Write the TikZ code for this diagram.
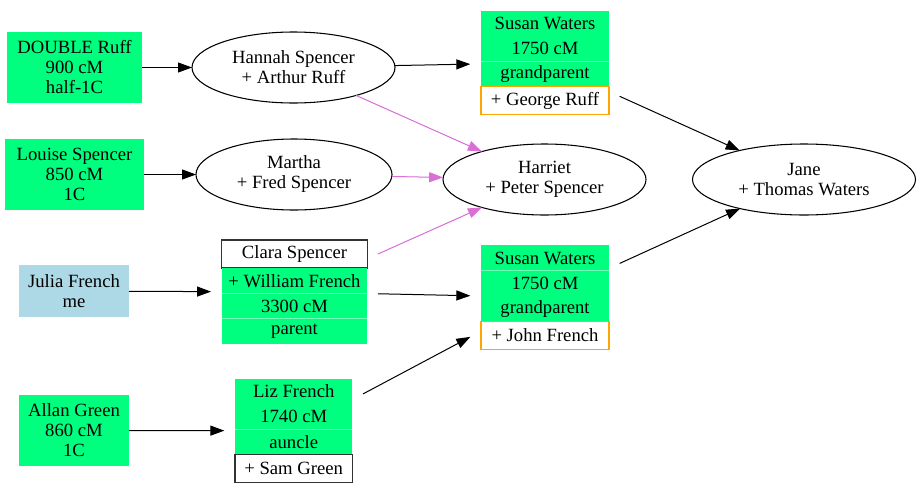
\documentclass[tikz,border=0pt]{standalone}
\usepackage{fontspec}
\setmainfont{Liberation Serif}
\usepackage{xcolor}
\usepackage{tikz}
\usetikzlibrary{shapes,arrows.meta,positioning,fit,calc}

\definecolor{springgreen}{HTML}{00FF7F}
\definecolor{lightblue}{HTML}{ADD8E6}
\definecolor{orange}{HTML}{FFA500}
\definecolor{orchid}{HTML}{DA70D6}

\tikzset{
    every node/.style={font=\fontsize{14}{15}\selectfont, inner sep=0pt, outer sep=0pt},
    match/.style={rectangle, fill=springgreen, align=center},
    me/.style={rectangle, fill=lightblue, align=center},
    couple/.style={ellipse, draw, line width=0.8pt, align=center},
    cell/.style={rectangle, fill=springgreen, minimum width=#1, minimum height=19pt},
    spouse/.style={rectangle, draw=orange, line width=0.9pt, fill=white, minimum width=#1, minimum height=21pt},
    plain/.style={rectangle, draw=black!80, line width=0.9pt, fill=white, minimum width=#1, minimum height=21pt},
    table/.style={inner sep=8pt},
    sep/.style={draw=springgreen!55!white, line width=0.4pt},
    link/.style={-{Triangle[length=10.5pt,width=7.5pt]}, line width=0.75pt},
    kin/.style={link, draw=orchid, fill=orchid}
}

\begin{document}
\begin{tikzpicture}[x=0.75pt, y=-0.75pt]
    \useasboundingbox (0,0) rectangle (921,493);

    % DNA matches
    \node[match, minimum width=101.25pt, minimum height=53.25pt] (double) at (74.5,67.5) {DOUBLE Ruff\\900 cM\\half-1C};
    \node[match, minimum width=104.25pt, minimum height=53.25pt] (louise) at (74.5,174.5) {Louise Spencer\\850 cM\\1C};
    \node[me, minimum width=82.5pt, minimum height=39pt] (julia) at (74,291) {Julia French\\me};
    \node[match, minimum width=82.5pt, minimum height=53.25pt] (allan) at (74,430.5) {Allan Green\\860 cM\\1C};

    % Couples
    \node[couple, minimum width=152.25pt, minimum height=53.25pt] (hannah) at (293.5,67.5) {Hannah Spencer\\+ Arthur Ruff};
    \node[couple, minimum width=147pt, minimum height=53.25pt] (martha) at (294,174.5) {Martha\\+ Fred Spencer};
    \node[couple, minimum width=152.25pt, minimum height=53.25pt] (harriet) at (544.5,179.5) {Harriet\\+ Peter Spencer};
    \node[couple, minimum width=167.25pt, minimum height=53.25pt] (jane) at (804,179.5) {Jane\\+ Thomas Waters};

    % Clara Spencer
    \node[plain=109.2pt, anchor=north] (claraName) at (294.5,240) {Clara Spencer};
    \node[cell=109.2pt, below=0pt of claraName] (claraSpouse) {+ William French};
    \node[cell=109.2pt, below=0pt of claraSpouse] (claraCM) {3300 cM};
    \node[cell=109.2pt, below=0pt of claraCM] (claraRel) {parent};
    \draw[sep] (claraSpouse.south west) -- (claraSpouse.south east);
    \draw[sep] (claraCM.south west) -- (claraCM.south east);
    \node[table, fit=(claraName) (claraRel)] (clara) {};

    % Susan Waters (top)
    \node[cell=96pt, anchor=north] (susanAName) at (545,10.7) {Susan Waters};
    \node[cell=96pt, below=0pt of susanAName] (susanACM) {1750 cM};
    \node[cell=96pt, below=0pt of susanACM] (susanARel) {grandparent};
    \node[spouse=96pt, below=0pt of susanARel] (susanASpouse) {+ George Ruff};
    \draw[sep] (susanACM.south west) -- (susanACM.south east);
    \node[table, fit=(susanAName) (susanASpouse)] (susanA) {};

    % Susan Waters (bottom)
    \node[cell=96pt, anchor=north] (susanBName) at (545,245.3) {Susan Waters};
    \node[cell=96pt, below=0pt of susanBName] (susanBCM) {1750 cM};
    \node[cell=96pt, below=0pt of susanBCM] (susanBRel) {grandparent};
    \node[spouse=96pt, below=0pt of susanBRel] (susanBSpouse) {+ John French};
    \draw[sep] (susanBName.south west) -- (susanBName.south east);
    \node[table, fit=(susanBName) (susanBSpouse)] (susanB) {};

    % Liz French
    \node[cell=88pt, anchor=north] (lizName) at (293.7,378.7) {Liz French};
    \node[cell=88pt, below=0pt of lizName] (lizCM) {1740 cM};
    \node[cell=88pt, below=0pt of lizCM] (lizRel) {auncle};
    \node[plain=88pt, below=0pt of lizRel] (lizSpouse) {+ Sam Green};
    \draw[sep] (lizCM.south west) -- (lizCM.south east);
    \node[table, fit=(lizName) (lizSpouse)] (liz) {};

    % Links
    \draw[link] (double) -- (hannah);
    \draw[link] (louise) -- (martha);
    \draw[link] (julia) -- (clara);
    \draw[link] (allan) -- (liz);
    \draw[link] (hannah) -- (susanA);
    \draw[link] (clara) -- (susanB);
    \draw[link] (liz) -- (susanB);
    \draw[link] (susanA) -- (jane);
    \draw[link] (susanB) -- (jane);
    \draw[kin] (hannah) -- (harriet);
    \draw[kin] (martha) -- (harriet);
    \draw[kin] ([xshift=8pt]claraName.east) -- (harriet);
\end{tikzpicture}
\end{document}
